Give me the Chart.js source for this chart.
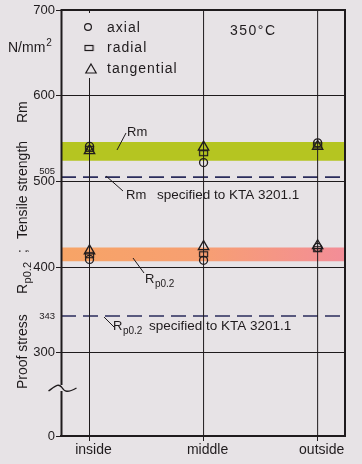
<!DOCTYPE html>
<html>
<head>
<meta charset="utf-8">
<script src="https://cdn.jsdelivr.net/npm/chart.js@4/dist/chart.umd.min.js"></script>
<style>
    html, body { margin: 0; padding: 0; background: #e7e3e6; }
    #wrap { width: 362px; height: 464px; }
</style>
</head>
<body>
<div id="wrap"><canvas id="chart" width="362" height="464"></canvas></div>
<script>
// ============================================
// Data (N/mm², 350 °C)
// ============================================

const locations = ["inside", "middle", "outside"];

// tensile strength Rm per specimen direction
const rmAxial = [541, 522, 545];
const rmRadial = [538, 533, 542];
const rmTangential = [536, 540, 541];

// proof stress Rp0.2 per specimen direction
const rpAxial = [409, 408, 423];
const rpRadial = [414, 415, 421];
const rpTangential = [419, 424, 425];

// scatter bands and specified minimum values
const rmBand = [524, 546];
const rpBand = [407, 423];
const rmSpecified = 505;
const rpSpecified = 343;

const yTickValues = [0, 300, 343, 400, 500, 505, 600, 700];

// ============================================
// Axis break: 0..300 squeezed under the 300 line
// ============================================

const ZERO_AT = 203;
const BREAK_AT = 300;
const Y_MAX = 700;
const X_MIN = 0.75;
const X_MAX = 3.24;

function toAxis(v) {
    return v >= BREAK_AT ? v : ZERO_AT + (v * (BREAK_AT - ZERO_AT)) / BREAK_AT;
}

const PAPER = "#e7e3e6";
const INK = "#1f1b1d";
const FONT = "'Liberation Sans', Arial, sans-serif";

function points(values) {
    return values.map((v, i) => ({ x: i + 1, y: toAxis(v) }));
}

function seriesPoints(rm, rp) {
    return points(rm).concat(points(rp));
}

function hLine(v) {
    return [{ x: X_MIN, y: toAxis(v) }, { x: X_MAX, y: toAxis(v) }];
}

// flat rectangle marker for "radial"
function rectMarker() {
    const cv = document.createElement("canvas");
    cv.width = 11;
    cv.height = 8;
    const c = cv.getContext("2d");
    c.strokeStyle = INK;
    c.lineWidth = 1.2;
    c.strokeRect(1.5, 1.5, 8, 5);
    return cv;
}
const RADIAL_STYLE = rectMarker();

function rpGradient(ctx) {
    const area = ctx.chart.chartArea;
    if (!area) return "#f6a06c";
    const g = ctx.chart.ctx.createLinearGradient(area.left, 0, area.right, 0);
    g.addColorStop(0, "#f7a466");
    g.addColorStop(0.5, "#f79f72");
    g.addColorStop(1, "#f38d98");
    return g;
}

// ============================================
// Decorations: frame, broken axis, legend, labels
// ============================================

function drawSub(c, x, y, main, sub, size) {
    c.font = `${size}px ${FONT}`;
    c.fillText(main, x, y);
    const w = c.measureText(main).width;
    c.font = `${Math.round(size * 0.8)}px ${FONT}`;
    c.fillText(sub, x + w + 0.5, y + size * 0.32);
    return w + c.measureText(sub).width;
}

function rotated(c, x, y, fn) {
    c.save();
    c.translate(x, y);
    c.rotate(-Math.PI / 2);
    fn();
    c.restore();
}

const decor = {
    id: "decor",
    beforeDraw(chart) {
        const c = chart.ctx;
        c.save();
        c.fillStyle = PAPER;
        c.fillRect(0, 0, chart.width, chart.height);
        c.restore();
    },
    afterDraw(chart) {
        const c = chart.ctx;
        const a = chart.chartArea;
        const L = Math.round(a.left) + 0.5;
        const yb = Math.round(a.bottom) - 48;
        c.save();
        c.setLineDash([]);
        c.strokeStyle = INK;
        c.fillStyle = INK;
        c.textBaseline = "alphabetic";

        // frame: upper left axis, top, right
        c.lineWidth = 2;
        c.beginPath();
        c.moveTo(L, yb - 3);
        c.lineTo(L, a.top);
        c.lineTo(a.right, a.top);
        c.lineTo(a.right, a.bottom);
        c.stroke();

        // lower left axis below the break
        c.beginPath();
        c.moveTo(L, yb + 3);
        c.lineTo(L, a.bottom);
        c.stroke();

        // break symbol
        c.lineWidth = 1.4;
        c.beginPath();
        c.moveTo(L - 13, yb + 3);
        c.bezierCurveTo(L - 6, yb - 2, L - 3, yb - 5, L, yb - 1);
        c.bezierCurveTo(L + 3, yb + 4, L + 6, yb + 5, L + 15, yb);
        c.stroke();

        // legend (covers the top of the "inside" line)
        c.fillStyle = PAPER;
        c.fillRect(79, 13, 104, 65);
        c.fillStyle = "rgba(0,0,0,0)";
        c.lineWidth = 1.2;
        const H = Chart.helpers;
        H.drawPoint(c, { pointStyle: "circle", radius: 3.4, rotation: 0, borderWidth: 1.2 }, 88, 27);
        H.drawPoint(c, { pointStyle: RADIAL_STYLE, radius: 4, rotation: 0, borderWidth: 1.2 }, 89, 48);
        H.drawPoint(c, { pointStyle: "triangle", radius: 6, rotation: 0, borderWidth: 1.2 }, 91, 70);
        c.fillStyle = INK;
        c.font = `14px ${FONT}`;
        c.letterSpacing = "1px";
        c.fillText(chart.data.datasets[0].label, 107, 32);
        c.fillText(chart.data.datasets[1].label, 107, 52);
        c.fillText(chart.data.datasets[2].label, 107, 73);
        c.letterSpacing = "1.5px";
        c.fillText("350°C", 230, 35);
        c.letterSpacing = "0px";

        // band + specification labels with leader lines
        c.lineWidth = 1;
        c.beginPath();
        c.moveTo(117, 150); c.lineTo(126, 133);
        c.moveTo(106, 176); c.lineTo(123, 191);
        c.moveTo(133, 258); c.lineTo(144, 273);
        c.moveTo(104, 317); c.lineTo(114, 327);
        c.stroke();

        c.font = `13px ${FONT}`;
        c.fillText("Rm", 127, 136);
        c.fillText("Rm", 126, 199);
        c.font = `13.5px ${FONT}`;
        c.fillText("specified to KTA 3201.1", 157, 199);
        drawSub(c, 145, 283, "R", "p0.2", 13);
        drawSub(c, 113, 330, "R", "p0.2", 13);
        c.font = `13.5px ${FONT}`;
        c.fillText("specified to KTA 3201.1", 149, 330);

        // unit
        c.font = `14px ${FONT}`;
        c.fillText("N/mm", 8, 52);
        const uw = c.measureText("N/mm").width;
        c.font = `10px ${FONT}`;
        c.fillText("2", 8 + uw + 1, 46);

        // y axis title, read bottom to top
        c.font = `14px ${FONT}`;
        rotated(c, 27, 389, () => c.fillText("Proof stress", 0, 0));
        rotated(c, 27, 294, () => drawSub(c, 0, 0, "R", "p0.2", 14));
        c.font = `14px ${FONT}`;
        rotated(c, 27, 253, () => c.fillText(";", 0, 0));
        rotated(c, 27, 239, () => c.fillText("Tensile strength", 0, 0));
        rotated(c, 27, 123, () => c.fillText("Rm", 0, 0));

        c.restore();
    },
};

// ============================================
// Chart
// ============================================

const markerBase = {
    backgroundColor: "rgba(0,0,0,0)",
    borderColor: INK,
    borderWidth: 1.3,
    showLine: false,
};

const lineBase = {
    showLine: true,
    pointRadius: 0,
    fill: false,
};

const verticals = locations.map((name, i) => ({
    ...lineBase,
    label: name,
    data: [{ x: i + 1, y: ZERO_AT }, { x: i + 1, y: Y_MAX }],
    borderColor: INK,
    borderWidth: 1,
}));

const datasets = [
    { ...markerBase, label: "axial", data: seriesPoints(rmAxial, rpAxial), pointStyle: "circle", pointRadius: 4 },
    { ...markerBase, label: "radial", data: seriesPoints(rmRadial, rpRadial), pointStyle: RADIAL_STYLE, pointRadius: 4 },
    { ...markerBase, label: "tangential", data: seriesPoints(rmTangential, rpTangential), pointStyle: "triangle", pointRadius: 6 },
    ...verticals,
    { ...lineBase, label: "Rm specified", data: hLine(rmSpecified), borderColor: "#2b2d5c", borderWidth: 1.6, borderDash: [15, 7] },
    { ...lineBase, label: "Rp0.2 specified", data: hLine(rpSpecified), borderColor: "#2b2d5c", borderWidth: 1.6, borderDash: [15, 7] },
    { ...lineBase, label: "Rm band", data: hLine(rmBand[1]), borderWidth: 0, fill: "+1", backgroundColor: "#b5c521" },
    { ...lineBase, label: "Rm band low", data: hLine(rmBand[0]), borderWidth: 0 },
    { ...lineBase, label: "Rp band", data: hLine(rpBand[1]), borderWidth: 0, fill: "+1", backgroundColor: rpGradient },
    { ...lineBase, label: "Rp band low", data: hLine(rpBand[0]), borderWidth: 0 },
];

const mainTicks = [300, 400, 500, 600];
const smallTicks = [rmSpecified, rpSpecified];

new Chart(document.getElementById("chart"), {
    type: "scatter",
    data: { datasets },
    options: {
        responsive: false,
        animation: false,
        layout: { padding: { top: 10, right: 17, left: 0, bottom: 0 } },
        plugins: {
            legend: { display: false },
            tooltip: { enabled: false },
        },
        scales: {
            x: {
                type: "linear",
                min: X_MIN,
                max: X_MAX,
                afterBuildTicks: (scale) => {
                    scale.ticks = locations.map((_, i) => ({ value: i + 1 }));
                },
                afterFit: (scale) => {
                    scale.height = 28;
                },
                ticks: {
                    callback: (value, index) => locations[index],
                    color: INK,
                    padding: 1,
                    labelOffset: 4,
                    maxRotation: 0,
                    font: { family: FONT, size: 14 },
                },
                grid: {
                    drawOnChartArea: false,
                    tickLength: 5,
                    tickColor: INK,
                },
                border: { display: true, color: INK, width: 2 },
            },
            y: {
                type: "linear",
                min: ZERO_AT,
                max: Y_MAX,
                afterBuildTicks: (scale) => {
                    scale.ticks = yTickValues.map((v) => ({ value: toAxis(v) }));
                },
                afterFit: (scale) => {
                    scale.width = 61;
                },
                ticks: {
                    // 505 sits just above its line, clear of the 500 label
                    callback: (value, index) => {
                        const v = yTickValues[index];
                        return v === rmSpecified ? [String(v), ""] : String(v);
                    },
                    color: INK,
                    padding: 1,
                    font: (ctx) => {
                        const v = yTickValues[ctx.index];
                        return { family: FONT, size: smallTicks.includes(v) ? 9.5 : 13 };
                    },
                },
                grid: {
                    tickLength: 5,
                    lineWidth: 1,
                    color: (ctx) => (mainTicks.includes(yTickValues[ctx.index]) ? INK : "rgba(0,0,0,0)"),
                    tickColor: (ctx) => (smallTicks.includes(yTickValues[ctx.index]) ? "rgba(0,0,0,0)" : INK),
                },
                border: { display: false },
            },
        },
    },
    plugins: [decor],
});
</script>
</body>
</html>
